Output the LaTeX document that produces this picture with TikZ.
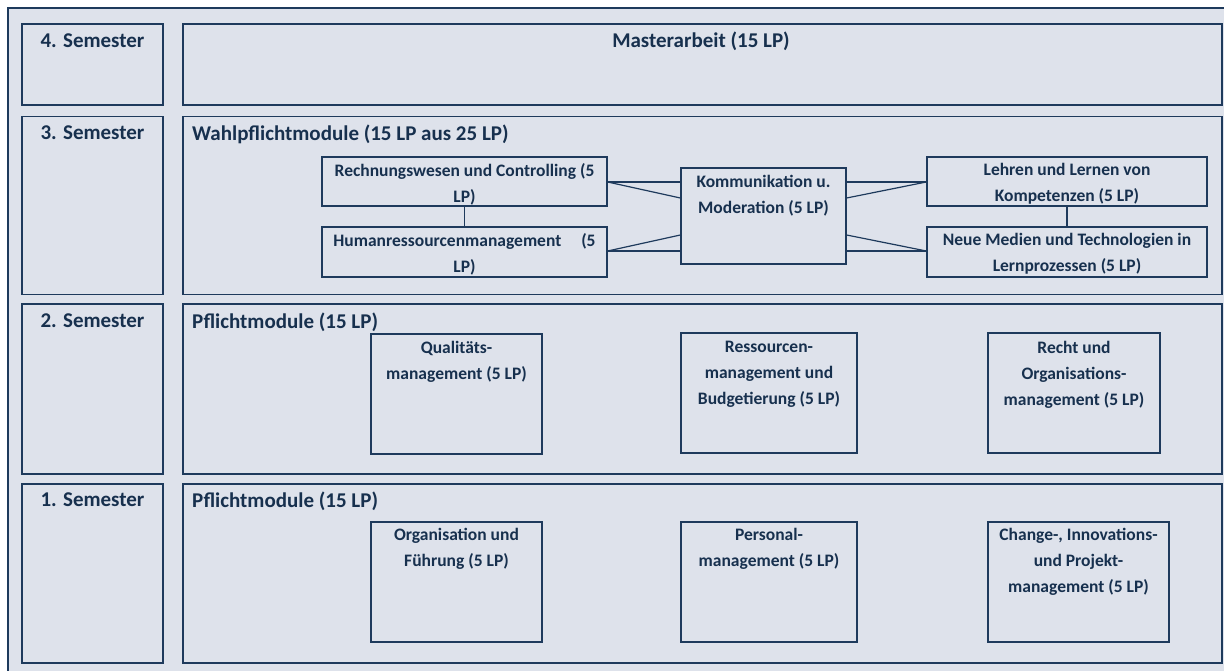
\documentclass[tikz,border=0pt]{standalone}
\usepackage{fontspec}
\setmainfont{Carlito}
\definecolor{bgc}{HTML}{DEE2EB}
\definecolor{ink}{HTML}{17304E}
\definecolor{linec}{HTML}{1E3A5C}
\begin{document}
\begin{tikzpicture}[x=1pt,y=-1pt,
  frame/.style={draw=linec, line width=1.8pt, fill=bgc, inner sep=0pt},
  sbox/.style={draw=linec, line width=1.3pt, fill=bgc, inner sep=0pt},
  head/.style={font=\fontsize{21}{25}\selectfont\bfseries, text=ink, inner sep=0pt},
  txt/.style={font=\fontsize{17.5}{26}\selectfont\bfseries, text=ink, align=center, inner sep=0pt, anchor=north},
  conn/.style={draw=linec, line width=1.2pt}
]
\clip (0,0) rectangle (1224,671);
\fill[white] (0,0) rectangle (1224,671);
\draw[draw=linec, line width=1.8pt, fill=bgc] (8,8) rectangle (1240,690);

% semester label boxes
\node[frame, minimum width=141pt, minimum height=81pt] (l4) at (92.5,64.5) {};
\node[frame, minimum width=141pt, minimum height=178pt] (l3) at (92.5,205.5) {};
\node[frame, minimum width=141pt, minimum height=170pt] (l2) at (92.5,389) {};
\node[frame, minimum width=141pt, minimum height=179pt] (l1) at (92.5,573.5) {};
% content boxes
\node[frame, minimum width=1039pt, minimum height=81pt] (r4) at (702.5,64.5) {};
\node[frame, minimum width=1039pt, minimum height=178pt] (r3) at (702.5,205.5) {};
\node[frame, minimum width=1039pt, minimum height=170pt] (r2) at (702.5,389) {};
\node[frame, minimum width=1039pt, minimum height=179pt] (r1) at (702.5,573.5) {};

\node[head] (t4) at (92.5,41) {4. Semester};
\node[head] (t3) at (92.5,133) {3. Semester};
\node[head] (t2) at (92.5,321) {2. Semester};
\node[head] (t1) at (92.5,500) {1. Semester};
\node[head] (m4) at (701,41) {Masterarbeit (15 LP)};
\node[head, anchor=west] (m3) at (192,134) {Wahlpflichtmodule (15 LP aus 25 LP)};
\node[head, anchor=west] (m2) at (192,322) {Pflichtmodule (15 LP)};
\node[head, anchor=west] (m1) at (192,501) {Pflichtmodule (15 LP)};

% 3rd semester boxes
\node[sbox, minimum width=285pt, minimum height=49pt] (rw) at (464.5,181.5) {};
\node[txt] (rwt) at (464.5,163) {Rechnungswesen und Controlling (5\\LP)};
\node[sbox, minimum width=285pt, minimum height=50pt] (hr) at (464.5,252) {};
\node[txt] (hrt) at (464.5,233) {Humanressourcenmanagement\hspace{16pt} (5\\LP)};
\node[sbox, minimum width=165pt, minimum height=96pt] (km) at (763.5,216) {};
\node[txt] (kmt) at (763.5,175) {Kommunikation u.\\Moderation (5 LP)};
\node[sbox, minimum width=280pt, minimum height=49pt] (ll) at (1067,181.5) {};
\node[txt] (llt) at (1067,163) {Lehren und Lernen von\\Kompetenzen (5 LP)};
\node[sbox, minimum width=280pt, minimum height=50pt] (nm) at (1067,252) {};
\node[txt] (nmt) at (1067,233) {Neue Medien und Technologien in\\Lernprozessen (5 LP)};

% connectors
\draw[conn] (rw.south) -- (hr.north);
\draw[conn] (ll.south) -- (nm.north);
\draw[conn] (rw.east |- 0,182) -- (km.west |- 0,182);
\draw[conn] (rw.east |- 0,182) -- (km.west |- 0,198);
\draw[conn, line width=1.8pt] (hr.east |- 0,251) -- (km.west |- 0,251);
\draw[conn] (hr.east |- 0,251) -- (km.west |- 0,235);
\draw[conn] (km.east |- 0,182) -- (ll.west |- 0,182);
\draw[conn] (km.east |- 0,198) -- (ll.west |- 0,182);
\draw[conn] (km.east |- 0,235) -- (nm.west |- 0,251);
\draw[conn, line width=1.8pt] (km.east |- 0,251) -- (nm.west |- 0,251);

% 2nd semester
\node[sbox, minimum width=171pt, minimum height=120pt] (qm) at (456.5,394) {};
\node[txt] (qmt) at (456.5,341) {Qualitäts-\\management (5 LP)};
\node[sbox, minimum width=176pt, minimum height=120pt] (rb) at (769,393) {};
\node[txt] (rbt) at (769,341) {Ressourcen-\\management und\\Budgetierung (5 LP)};
\node[sbox, minimum width=172pt, minimum height=120pt] (ro) at (1074,393) {};
\node[txt] (rot) at (1074,341) {Recht und\\Organisations-\\management (5 LP)};

% 1st semester
\node[sbox, minimum width=171pt, minimum height=120pt] (of) at (456.5,582) {};
\node[txt] (oft) at (456.5,528) {Organisation und\\Führung (5 LP)};
\node[sbox, minimum width=176pt, minimum height=120pt] (pm) at (769,582) {};
\node[txt] (pmt) at (769,528) {Personal-\\management (5 LP)};
\node[sbox, minimum width=181pt, minimum height=120pt] (cm) at (1078.5,582) {};
\node[txt] (cmt) at (1078.5,528) {Change-, Innovations-\\und Projekt-\\management (5 LP)};
\end{tikzpicture}
\end{document}
